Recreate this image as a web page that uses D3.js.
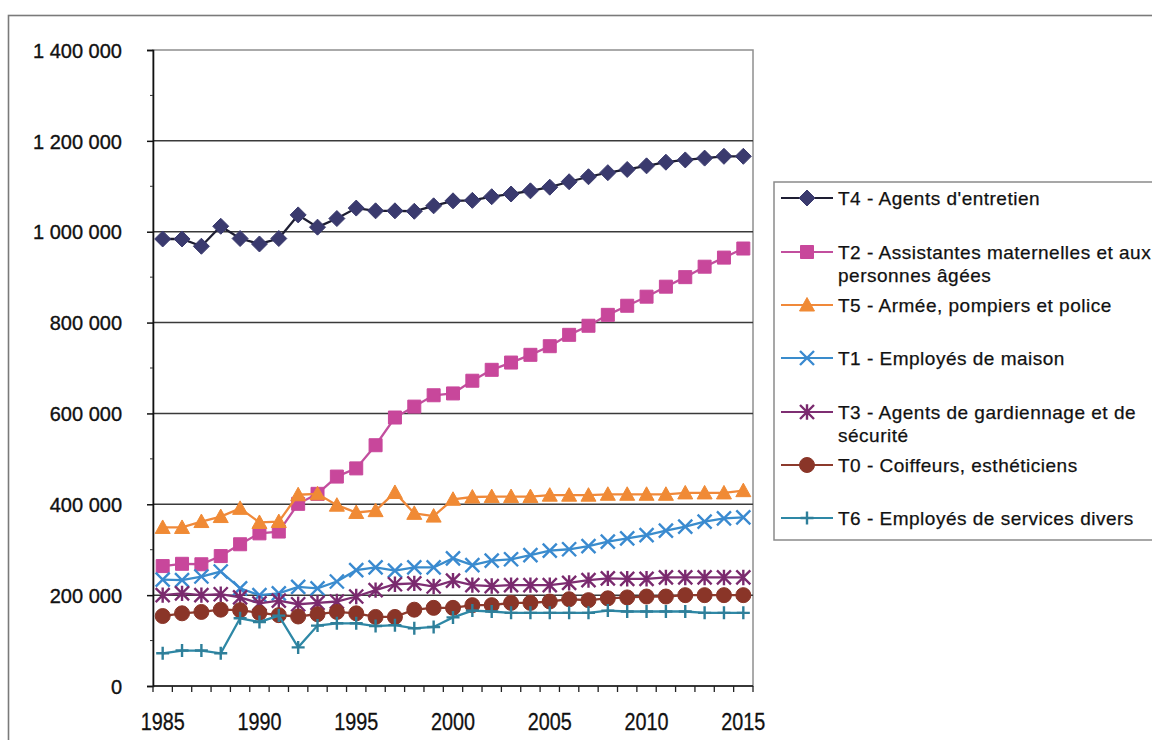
<!DOCTYPE html>
<html><head><meta charset="utf-8">
<script src="https://cdn.jsdelivr.net/npm/d3@7"></script>
<style>
html,body{margin:0;padding:0;background:#fff;}
svg{display:block;font-family:"Liberation Sans",Arial,sans-serif;}
</style></head>
<body><svg id="c" width="1152" height="740"></svg>
<script>
const years = d3.range(1985, 2016);
const yTicks = [0,200000,400000,600000,800000,1000000,1200000,1400000];
const xLabelYears = [1985,1990,1995,2000,2005,2010,2015];

const T4 = [984000,984000,968000,1012000,985000,973000,985000,1037000,1010000,1029000,1052000,1046000,1046000,1045000,1057000,1068000,1069000,1077000,1083000,1090000,1098000,1110000,1121000,1130000,1137000,1145000,1153000,1158000,1162000,1166000,1166000];
const T2 = [264000,269000,268000,286000,312000,336000,340000,401000,423000,461000,479000,530000,591000,615000,640000,644000,672000,696000,712000,729000,748000,773000,793000,817000,837000,857000,879000,900000,923000,943000,963000];
const T5 = [349000,349000,362000,373000,391000,360000,362000,421000,423000,398000,382000,386000,426000,380000,374000,411000,416000,417000,417000,417000,420000,420000,420000,422000,422000,422000,422000,425000,425000,425000,430000];
const T1 = [234000,233000,241000,252000,215000,200000,204000,218000,215000,230000,255000,261000,254000,261000,261000,281000,266000,276000,279000,288000,298000,301000,308000,318000,325000,332000,342000,351000,362000,369000,371000];
const T3 = [200000,204000,200000,202000,195000,182000,188000,180000,183000,186000,197000,211000,224000,226000,219000,232000,222000,220000,222000,222000,222000,227000,233000,237000,236000,236000,239000,239000,239000,239000,239000];
const T0 = [154000,160000,163000,168000,167000,161000,156000,153000,158000,163000,160000,152000,152000,168000,172000,172000,178000,178000,183000,183000,186000,191000,189000,193000,195000,197000,197000,200000,200000,200000,200000];
const T6 = [72000,78000,78000,72000,149000,141000,155000,85000,133000,138000,138000,132000,134000,127000,130000,151000,166000,164000,161000,161000,161000,161000,161000,166000,164000,164000,164000,164000,161000,161000,161000];

const seriesNames = ["T4 - Agents d'entretien","T2 - Assistantes maternelles et aux|personnes âgées","T5 - Armée, pompiers et police","T1 - Employés de maison","T3 - Agents de gardiennage et de|sécurité","T0 - Coiffeurs, esthéticiens","T6 - Employés de services divers"];
const seriesValues = [T4,T2,T5,T1,T3,T0,T6];
const lineColors = ["#1e1e33","#c24f9e","#f0893a","#3a8ccc","#7e2e72","#8c3a2c","#2e88a6"];
const markColors = ["#3a3a6e","#c8479b","#f08a35","#3a8ad0","#7a2a6e","#8a3528","#2e7f9a"];
const markTypes = ["diamond","square","triangle","x","star","circle","plus"];

const svg = d3.select("#c");
const L = 153, R = 753, T = 50, B = 686;
const x = d3.scaleBand().domain(years).range([L, R]).padding(0);
const cx = d => x(d) + x.bandwidth()/2;
const y = d3.scaleLinear().domain([0,1400000]).range([B, T]);
const fmt = d3.formatLocale({decimal:",", thousands:" ", grouping:[3], currency:["","€"]}).format(",d");

// outer border
svg.append("rect").attr("x",8.5).attr("y",15.5).attr("width",1160).attr("height",740).attr("fill","none").attr("stroke","#7a7a7a").attr("stroke-width",1.6);

// plot border (top/right)
svg.append("rect").attr("x",L).attr("y",T).attr("width",R-L).attr("height",B-T).attr("fill","none").attr("stroke","#8f8f8f").attr("stroke-width",1.5);

// gridlines
svg.append("g").selectAll("line").data(yTicks.filter(v=>v>0 && v<1400000)).join("line")
  .attr("x1",L).attr("x2",R).attr("y1",d=>y(d)).attr("y2",d=>y(d))
  .attr("stroke","#3a3a3a").attr("stroke-width",1.5);

// y axis
const ya = svg.append("g").attr("transform",`translate(${L},0)`)
  .call(d3.axisLeft(y).tickValues(yTicks).tickFormat(fmt).tickSize(6).tickPadding(25));
ya.select(".domain").attr("stroke","#111").attr("stroke-width",1.6);
ya.selectAll(".tick line").attr("stroke","#111").attr("stroke-width",1.5);
ya.selectAll("text").attr("font-size",20).attr("fill","#111").attr("stroke","#111").attr("stroke-width",0.35)
  .attr("font-family","'Liberation Sans',Arial,sans-serif").attr("dy","0.36em");
// minor ticks
svg.append("g").selectAll("line").data(d3.range(100000,1400000,200000)).join("line")
  .attr("x1",L-3).attr("x2",L).attr("y1",d=>y(d)).attr("y2",d=>y(d)).attr("stroke","#333").attr("stroke-width",1);

// x axis
svg.append("line").attr("x1",L).attr("x2",R).attr("y1",B).attr("y2",B).attr("stroke","#111").attr("stroke-width",1.6);
svg.append("g").selectAll("line").data(years.concat([2016])).join("line")
  .attr("x1",d=>d===2016? R : x(d)).attr("x2",d=>d===2016? R : x(d))
  .attr("y1",B).attr("y2",B+6).attr("stroke","#222").attr("stroke-width",1.3);
svg.append("g").selectAll("text").data(xLabelYears).join("text")
  .attr("x",d=>cx(d)).attr("y",B+44).attr("text-anchor","middle")
  .attr("font-size",23).attr("fill","#111").attr("stroke","#111").attr("stroke-width",0.3)
  .attr("transform",d=>`translate(${cx(d)},0) scale(0.86,1) translate(${-cx(d)},0)`).text(d=>d);

// markers
function markerPath(type, s){
  const h = s/2;
  switch(type){
    case "diamond": return `M0,${-h}L${h},0L0,${h}L${-h},0Z`;
    case "square": return `M${-h},${-h}H${h}V${h}H${-h}Z`;
    case "triangle": return `M0,${-h}L${h},${h*0.8}L${-h},${h*0.8}Z`;
    case "circle": return d3.symbol(d3.symbolCircle, Math.PI*h*h)();
    case "x": return `M${-h},${-h}L${h},${h}M${h},${-h}L${-h},${h}`;
    case "star": return `M${-h},${-h}L${h},${h}M${h},${-h}L${-h},${h}M0,${-h*1.1}V${h*1.1}`;
    case "plus": return `M${-h},0H${h}M0,${-h}V${h}`;
  }
}
const sizes = {diamond:16,square:13,triangle:15,circle:15,x:14,star:14,plus:13};
const filled = t => ["diamond","square","triangle","circle"].includes(t);

function drawMarker(g, type, color){
  g.append("path").attr("d", markerPath(type, sizes[type]))
   .attr("fill", filled(type)? color : "none")
   .attr("stroke", color).attr("stroke-width", filled(type)? 1 : 2.4);
}

const line = d3.line().x((d,i)=>cx(years[i])).y(d=>y(d));
seriesValues.forEach((vals, si)=>{
  const g = svg.append("g");
  g.append("path").datum(vals).attr("d", line).attr("fill","none")
   .attr("stroke", lineColors[si]).attr("stroke-width", 2.3);
  vals.forEach((v,i)=>{
    const mg = g.append("g").attr("transform",`translate(${cx(years[i])},${y(v)})`);
    drawMarker(mg, markTypes[si], markColors[si]);
  });
});

// legend
const lg = svg.append("g");
lg.append("rect").attr("x",774).attr("y",182).attr("width",400).attr("height",358)
  .attr("fill","#fff").attr("stroke","#8a8a8a").attr("stroke-width",1.5);
const legY = [198,252,305,358,412,465,518];
seriesNames.forEach((name, si)=>{
  const yy = legY[si];
  lg.append("line").attr("x1",781).attr("x2",833).attr("y1",yy).attr("y2",yy)
    .attr("stroke",lineColors[si]).attr("stroke-width",2);
  const mg = lg.append("g").attr("transform",`translate(807,${yy})`);
  drawMarker(mg, markTypes[si], markColors[si]);
  const parts = name.split("|");
  parts.forEach((p,k)=>{
    lg.append("text").attr("x",838).attr("y",yy+7+k*23).attr("font-size",19)
      .attr("letter-spacing","0.5px").attr("fill","#111").attr("stroke","#111").attr("stroke-width",0.25).text(p);
  });
});
</script></body></html>
